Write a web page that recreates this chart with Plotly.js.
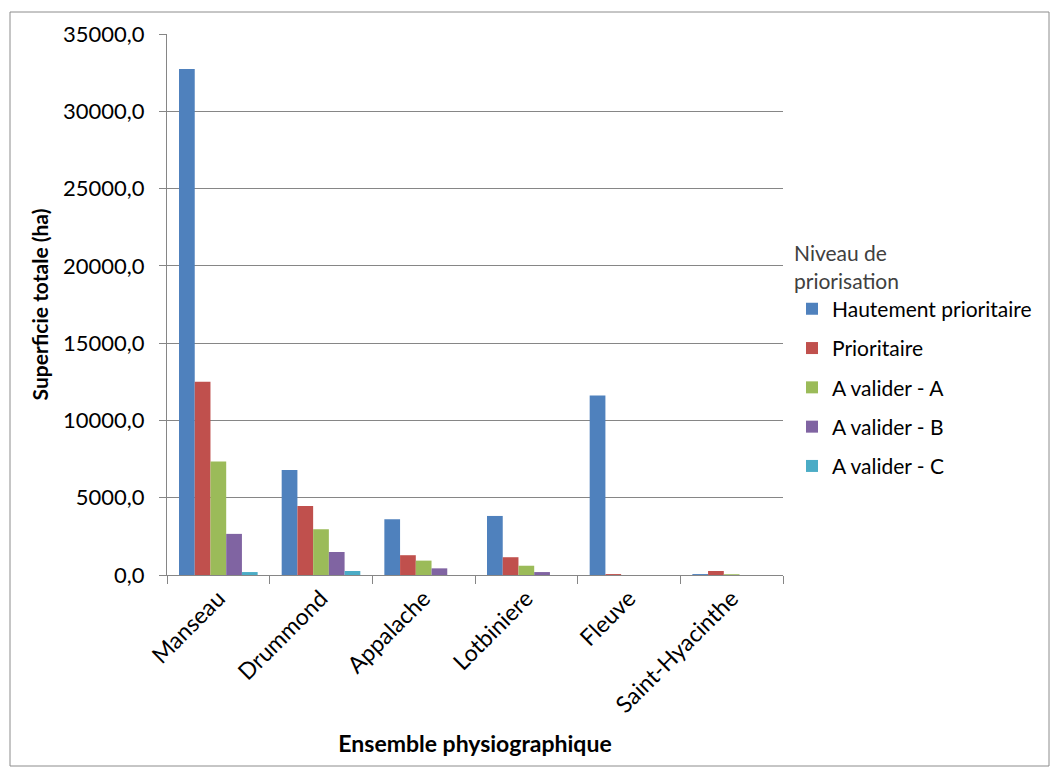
<!DOCTYPE html>
<html>
<head>
<meta charset="utf-8">
<script src="https://cdn.plot.ly/plotly-3.0.1.min.js"></script>
<style>
  html, body { margin: 0; padding: 0; background: #ffffff; }
  #chart { width: 1052px; height: 771px; }
</style>
</head>
<body>
<div id="chart"></div>
<script>
// Superficie totale (ha) par ensemble physiographique et niveau de priorisation
const categories = ['Manseau', 'Drummond', 'Appalache', 'Lotbiniere', 'Fleuve', 'Saint-Hyacinthe'];

const hautementPrioritaire = [32730, 6800, 3610, 3820, 11620, 60];
const prioritaire          = [12510, 4470, 1280, 1150, 60, 260];
const aValiderA            = [7340, 2960, 930, 600, 0, 50];
const aValiderB            = [2660, 1490, 430, 190, 0, 0];
const aValiderC            = [190, 260, 0, 0, 0, 0];

const seriesNames = ['Hautement prioritaire', 'Prioritaire', 'A valider - A', 'A valider - B', 'A valider - C'];
const seriesValues = [hautementPrioritaire, prioritaire, aValiderA, aValiderB, aValiderC];
const seriesColors = ['#4F81BD', '#C0504D', '#9BBB59', '#8064A2', '#4BACC6'];

const font = 'Lato, "Open Sans", sans-serif';

const traces = seriesNames.map((name, i) => ({
  type: 'bar',
  name: name,
  x: categories,
  y: seriesValues[i],
  legendgroup: 'g' + i,
  marker: { color: seriesColors[i], line: { width: 0 } },
  hoverinfo: 'x+y+name'
}));

const plotLeft = 167, plotRight = 783, plotTop = 34, plotBottom = 575;
const W = 1052, H = 771;
const pw = plotRight - plotLeft, ph = plotBottom - plotTop;
const px = v => (v - plotLeft) / pw;
const py = v => (plotBottom - v) / ph;

const layout = {
  width: W,
  height: H,
  margin: { l: plotLeft, r: W - plotRight, t: plotTop, b: H - plotBottom, pad: 0 },
  paper_bgcolor: '#ffffff',
  plot_bgcolor: '#ffffff',
  separators: ',.',
  font: { family: font, color: '#000000', size: 21 },
  barmode: 'group',
  bargap: 0.234,
  bargroupgap: 0,
  showlegend: true,
  legend: {
    x: px(792), xanchor: 'left',
    y: py(234), yanchor: 'top',
    traceorder: 'grouped',
    tracegroupgap: 9,
    font: { family: font, size: 21, color: '#000000' },
    title: { text: 'Niveau de<br>priorisation', side: 'top', font: { family: font, size: 21, color: '#404040' } },
    bgcolor: 'rgba(0,0,0,0)',
    itemwidth: 30
  },
  xaxis: {
    type: 'category',
    tickangle: -45,
    ticks: 'outside',
    tickson: 'boundaries',
    ticklen: 8,
    tickcolor: '#868686',
    showline: true,
    linecolor: '#868686',
    linewidth: 1,
    showgrid: false,
    tickfont: { family: font, size: 23, color: '#000000' },
    title: { text: 'Ensemble physiographique', standoff: 18, font: { family: font, size: 23, color: '#000000', weight: 'bold' } },
    automargin: false
  },
  yaxis: {
    range: [0, 35000],
    dtick: 5000,
    tick0: 0,
    tickformat: '.1f',
    ticks: 'outside',
    ticklen: 7,
    tickcolor: '#868686',
    ticklabelstandoff: 10,
    showline: true,
    linecolor: '#868686',
    linewidth: 1,
    showgrid: true,
    gridcolor: '#868686',
    gridwidth: 1,
    zeroline: false,
    tickfont: { family: font, size: 22, color: '#000000' },
    title: { text: 'Superficie totale (ha)', standoff: 8, font: { family: font, size: 21, color: '#000000', weight: 'bold' } },
    automargin: false
  },
  shapes: [{
    type: 'rect',
    xref: 'paper', yref: 'paper',
    x0: px(10), x1: px(1049),
    y0: py(766), y1: py(12),
    line: { color: '#8c8c8c', width: 1 },
    fillcolor: 'rgba(0,0,0,0)',
    layer: 'below'
  }]
};

Plotly.newPlot('chart', traces, layout, { displayModeBar: false, staticPlot: true });
</script>
</body>
</html>
